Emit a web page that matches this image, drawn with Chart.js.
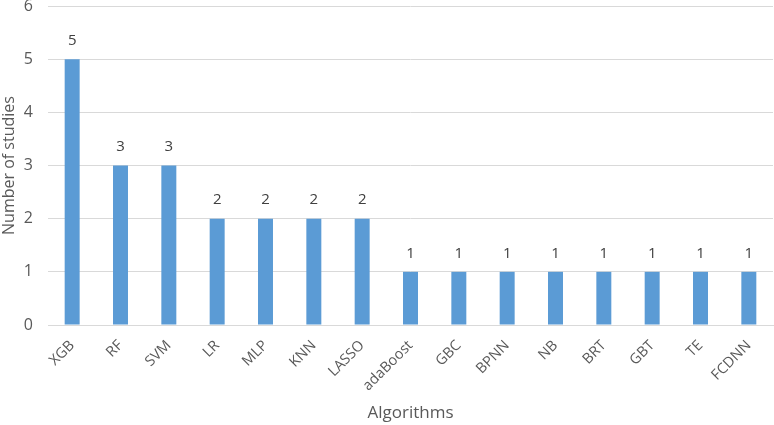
<!DOCTYPE html>
<html><head><meta charset="utf-8">
<script src="https://cdn.jsdelivr.net/npm/chart.js@4/dist/chart.umd.min.js"></script>
<style>html,body{margin:0;padding:0;background:#fff}#wrap{width:774px;height:425px}</style>
</head><body><div id="wrap"><canvas id="c" width="774" height="425"></canvas></div>
<script>
const categories = ["XGB","RF","SVM","LR","MLP","KNN","LASSO","adaBoost","GBC","BPNN","NB","BRT","GBT","TE","FCDNN"];
const studies = [5,3,3,2,2,2,2,1,1,1,1,1,1,1,1];
const yTicks = [0,1,2,3,4,5,6];
const FONT = "'Open Sans', 'Noto Sans', sans-serif";

const labelPlugin = {
  id: 'barLabels',
  afterDatasetsDraw(chart) {
    const ctx = chart.ctx;
    const meta = chart.getDatasetMeta(0);
    ctx.save();
    ctx.font = "15px " + FONT;
    ctx.fillStyle = "#404040";
    ctx.textAlign = "center";
    ctx.textBaseline = "bottom";
    meta.data.forEach((bar, i) => {
      ctx.fillText(String(studies[i]), bar.x, bar.y - 11);
    });
    ctx.restore();
  }
};

new Chart(document.getElementById('c'), {
  type: 'bar',
  data: { labels: categories, datasets: [{ data: studies, backgroundColor: '#5B9BD5', barPercentage: 0.31, categoryPercentage: 1 }] },
  options: {
    responsive: false, animation: false,
    layout: { padding: { top: 6, right: 1, left: 0, bottom: 2 } },
    plugins: { legend: { display: false }, tooltip: { enabled: false } },
    scales: {
      x: {
        grid: { display: false, drawTicks: false },
        border: { color: '#d9d9d9' },
        ticks: { color: '#595959', font: { family: FONT, size: 14.5 }, minRotation: 45, maxRotation: 45, padding: 12 },
        title: { display: true, text: 'Algorithms', color: '#595959', font: { family: FONT, size: 17 }, padding: { top: 4, bottom: 0 } },
        afterFit(s) { s.height = 98; s.paddingLeft = 0; s.paddingRight = 0; }
      },
      y: {
        min: 0, max: 6,
        afterBuildTicks(s) { s.ticks = yTicks.map(v => ({ value: v })); },
        grid: { color: '#d9d9d9', drawTicks: false },
        border: { display: false },
        ticks: { color: '#595959', font: { family: FONT, size: 16 }, padding: 15 },
        title: { display: true, text: 'Number of studies', color: '#595959', font: { family: FONT, size: 16 }, padding: { top: 0, bottom: 0 } },
        afterFit(s) { s.width = 48; s.paddingTop = 0; s.paddingBottom = 0; }
      }
    }
  },
  plugins: [labelPlugin]
});
</script></body></html>
